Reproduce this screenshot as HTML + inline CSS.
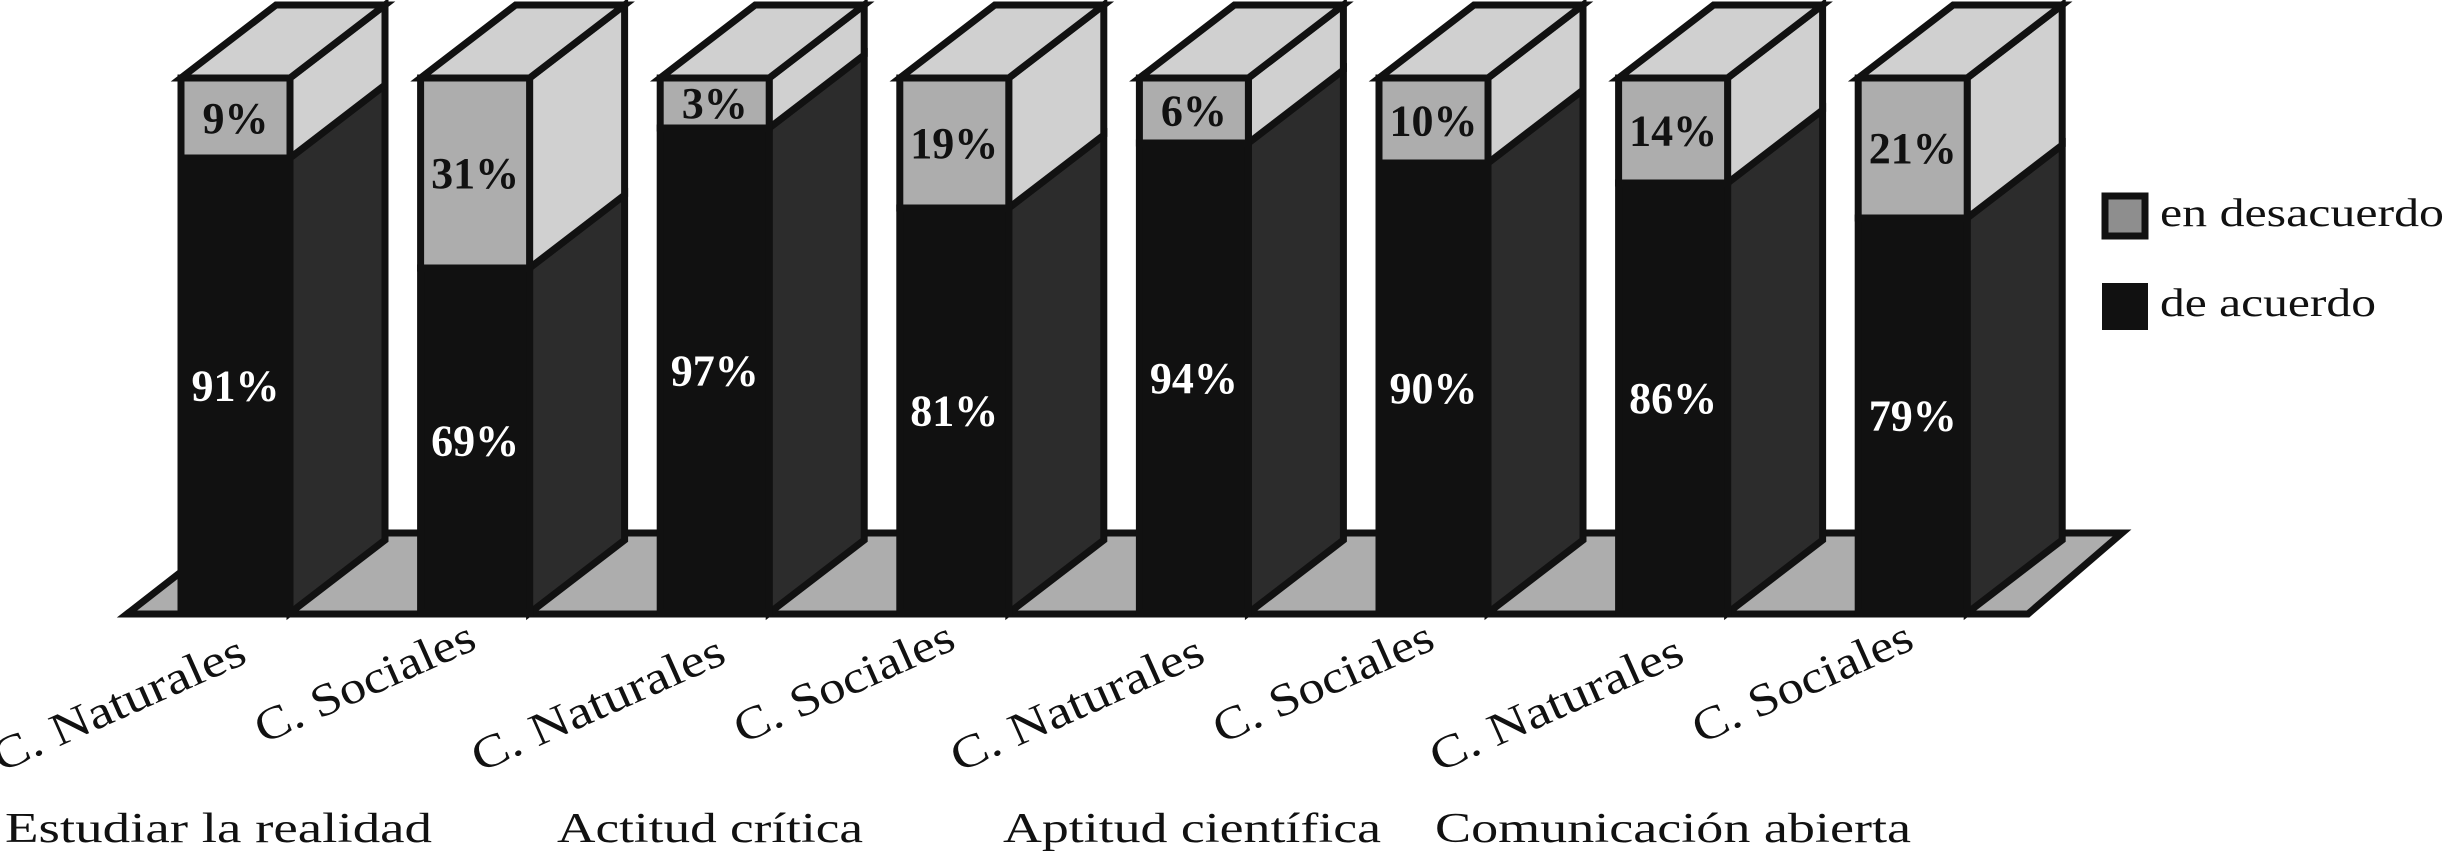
<!DOCTYPE html>
<html><head><meta charset="utf-8"><style>
html,body{margin:0;padding:0;background:#fff;}
svg{display:block;font-family:"Liberation Serif",serif;}
</style></head><body>
<svg id="chart" width="2446" height="860" viewBox="0 0 2446 860" xmlns="http://www.w3.org/2000/svg">
<polygon points="127,614 2028,614 2122,533 231,533" fill="#adadad" stroke="#111" stroke-width="7" stroke-linejoin="miter"/>
<g id="bars"></g>
<g id="labels"></g>
<g>
<rect x="2105" y="196" width="40" height="40" fill="#8e8e8e" stroke="#111" stroke-width="7"/>
<text x="2160" y="226" font-size="40" fill="#111" textLength="284" lengthAdjust="spacingAndGlyphs">en desacuerdo</text>
<rect x="2102" y="283" width="46" height="47" fill="#111"/>
<text x="2160" y="316" font-size="40" fill="#111" textLength="216" lengthAdjust="spacingAndGlyphs">de acuerdo</text>
</g>
</svg>
<script>
const categories = ["C. Naturales","C. Sociales","C. Naturales","C. Sociales","C. Naturales","C. Sociales","C. Naturales","C. Sociales"];
const acuerdo = [91,69,97,81,94,90,86,79];
const desacuerdo = [9,31,3,19,6,10,14,21];
const groups = ["Estudiar la realidad","Actitud crítica","Aptitud científica","Comunicación abierta"];

const NS="http://www.w3.org/2000/svg";
const y0=613, pxPer=5.0, capPct=107;
function yScale(v){return y0 - v*pxPer;}
function xScale(i){return 181 + i*239.6;}
const W=109, DX=95, DY=-73;
const barsG=document.getElementById('bars');
const labG=document.getElementById('labels');
function poly(pts,fill,name){
  const p=document.createElementNS(NS,'polygon');
  p.setAttribute('points',pts.map(a=>a.join(',')).join(' '));
  p.setAttribute('fill',fill);p.setAttribute('stroke','#111');p.setAttribute('stroke-width','7');p.setAttribute('stroke-linejoin','miter');
  
  
  return p;
}
function txt(x,y,s,size,fill,weight,name,extra){
  const t=document.createElementNS(NS,'text');
  t.setAttribute('x',x);t.setAttribute('y',y);t.setAttribute('font-size',size);t.setAttribute('fill',fill);
  if(weight)t.setAttribute('font-weight',weight);
  t.textContent=s;
  
  
  if(extra)for(const k in extra)t.setAttribute(k,extra[k]);
  return t;
}
categories.forEach((c,i)=>{
  const g=document.createElementNS(NS,'g');
  
  
  const x=xScale(i), yb=yScale(0), ys=yScale(acuerdo[i]), yt=yScale(capPct);
  g.appendChild(poly([[x+W,yb],[x+W+DX,yb+DY],[x+W+DX,ys+DY],[x+W,ys]],'#2c2c2c','bar-side-de-acuerdo'));
  g.appendChild(poly([[x+W,ys],[x+W+DX,ys+DY],[x+W+DX,yt+DY],[x+W,yt]],'#d0d0d0','bar-side-en-desacuerdo'));
  g.appendChild(poly([[x,yt],[x+W,yt],[x+W+DX,yt+DY],[x+DX,yt+DY]],'#d0d0d0','bar-top'));
  g.appendChild(poly([[x,yb],[x+W,yb],[x+W,ys],[x,ys]],'#111','bar-front-de-acuerdo'));
  g.appendChild(poly([[x,ys],[x+W,ys],[x+W,yt],[x,yt]],'#adadad','bar-front-en-desacuerdo'));
  const cx=x+W/2;
  g.appendChild(txt(cx,(ys+yt)/2+15,desacuerdo[i]+'%',44,'#111','bold','value-en-desacuerdo',{'text-anchor':'middle'}));
  g.appendChild(txt(cx,(yb+ys)/2+15,acuerdo[i]+'%',44,'#fff','bold','value-de-acuerdo',{'text-anchor':'middle'}));
  barsG.appendChild(g);
  const isNat = c.indexOf('Natur')>=0;
  const ex=x+(isNat?68:58), ey=isNat?662:648;
  labG.appendChild(txt(ex,ey,c,46,'#111',null,'category-label',{'text-anchor':'end','textLength':isNat?272:236,'lengthAdjust':'spacingAndGlyphs','transform':'rotate(-24 '+ex+' '+ey+')'}));
});
const gx=[5,557,1003,1435], gw=[427,306,378,476];
groups.forEach((s,i)=>{
  labG.appendChild(txt(gx[i],842,s,42,'#111',null,'group-label',{'textLength':gw[i],'lengthAdjust':'spacingAndGlyphs'}));
});
</script>
</body></html>
